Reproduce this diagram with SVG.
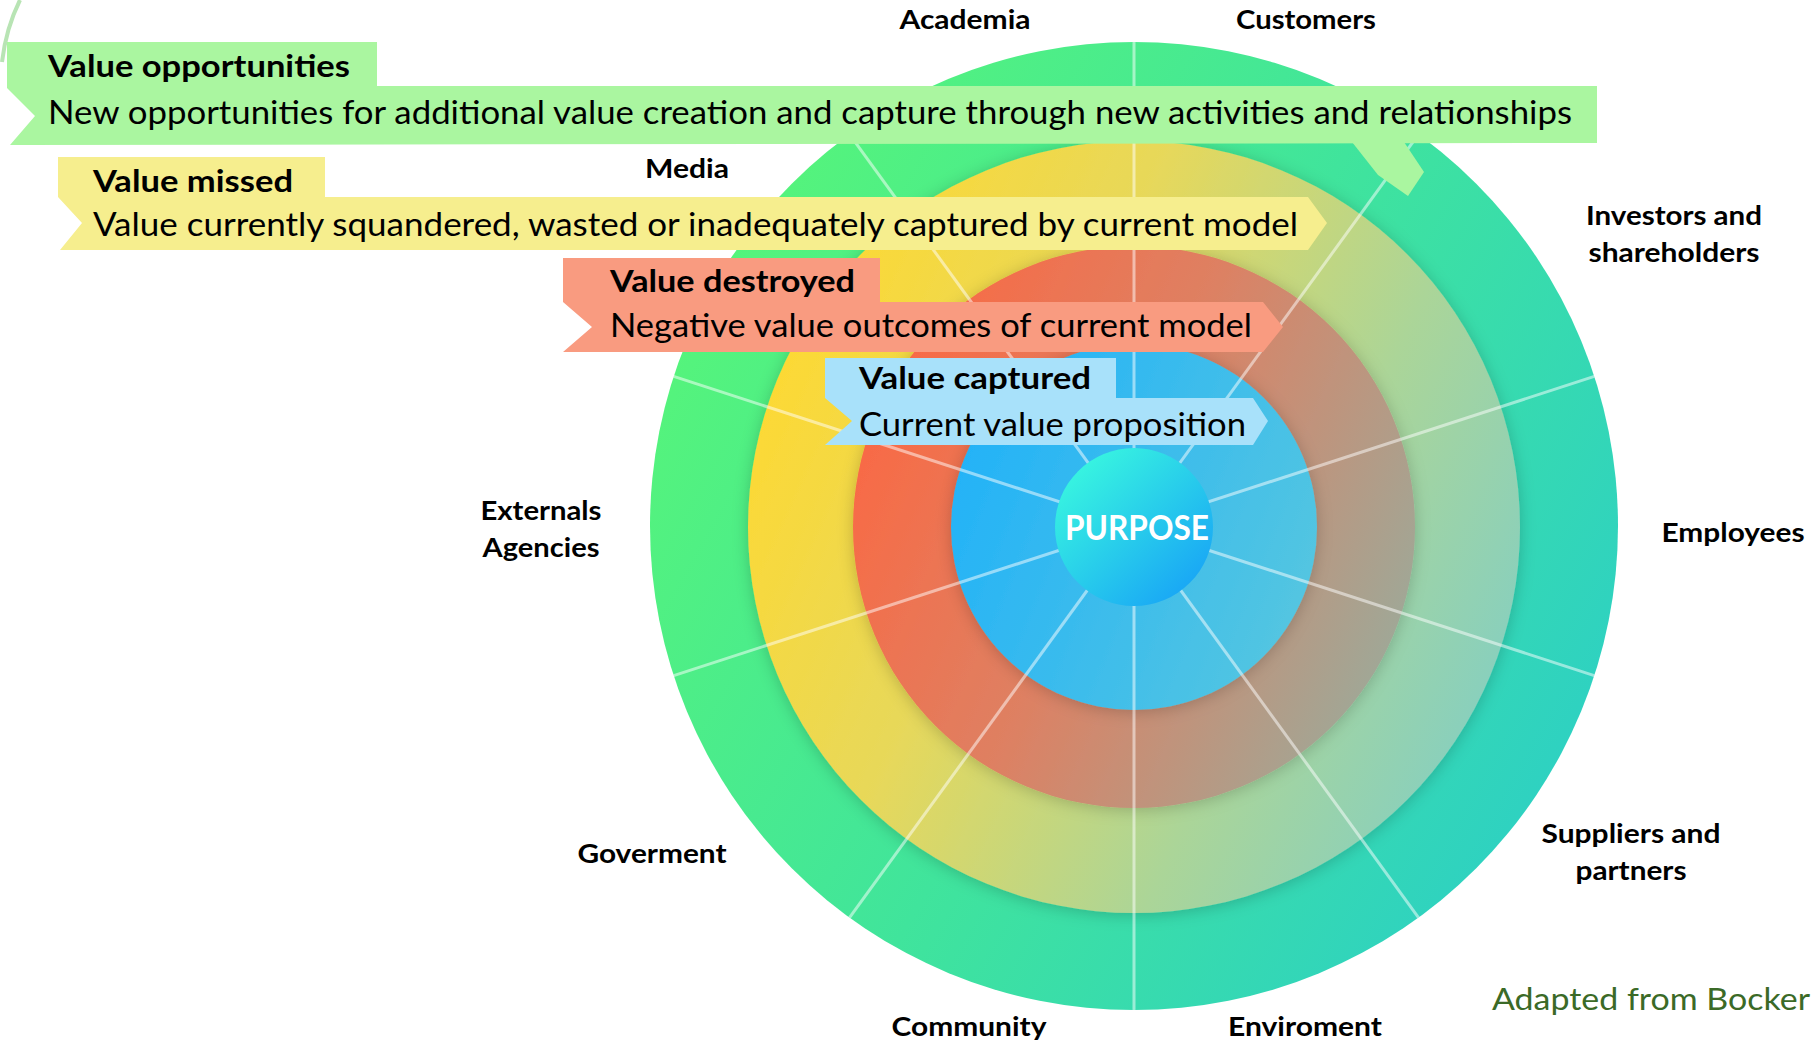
<svg xmlns="http://www.w3.org/2000/svg" width="1812" height="1042" viewBox="0 0 1812 1042">
<defs>
  <linearGradient id="gOuter" gradientUnits="userSpaceOnUse" x1="650" y1="250" x2="1618" y2="800">
    <stop offset="0" stop-color="#58f677"/>
    <stop offset="0.5" stop-color="#40e49c"/>
    <stop offset="1" stop-color="#2ccfc6"/>
  </linearGradient>
  <linearGradient id="gYellow" gradientUnits="userSpaceOnUse" x1="749" y1="350" x2="1520" y2="700">
    <stop offset="0" stop-color="#ffd930"/>
    <stop offset="0.35" stop-color="#e7d85a"/>
    <stop offset="0.7" stop-color="#abd598"/>
    <stop offset="1" stop-color="#84cfc2"/>
  </linearGradient>
  <linearGradient id="gRed" gradientUnits="userSpaceOnUse" x1="855" y1="400" x2="1414" y2="650">
    <stop offset="0" stop-color="#fb6843"/>
    <stop offset="0.45" stop-color="#de8062"/>
    <stop offset="1" stop-color="#9caa9a"/>
  </linearGradient>
  <linearGradient id="gBlue" gradientUnits="userSpaceOnUse" x1="950" y1="450" x2="1318" y2="600">
    <stop offset="0" stop-color="#22b2f8"/>
    <stop offset="1" stop-color="#55c6e0"/>
  </linearGradient>
  <linearGradient id="gPurpose" x1="0.15" y1="0.1" x2="0.9" y2="0.9">
    <stop offset="0" stop-color="#38f5e0"/>
    <stop offset="1" stop-color="#18a4f6"/>
  </linearGradient>
  <filter id="sh" x="-15%" y="-15%" width="130%" height="130%">
    <feDropShadow dx="0" dy="2" stdDeviation="8" flood-color="#000" flood-opacity="0.2"/>
  </filter>
  <style>
    .lbl { font-family: Lato, "Open Sans", "Liberation Sans", sans-serif; font-weight: 700; font-size: 27px; fill: #000; text-anchor: middle; }
    .ttl { font-family: Lato, "Open Sans", "Liberation Sans", sans-serif; font-weight: 700; font-size: 31px; fill: #000; }
    .body { font-family: Lato, "Open Sans", "Liberation Sans", sans-serif; font-weight: 400; font-size: 32px; fill: #000; }
    .spoke { stroke: #ffffff; stroke-opacity: 0.5; stroke-width: 3; }
  </style>
</defs>
<rect width="1812" height="1042" fill="#ffffff"/>
<path d="M 20 0 Q 6 28 2 62" fill="none" stroke="#b8e4b4" stroke-width="4"/>

<g id="ring-outer"><circle cx="1134" cy="526" r="484" fill="url(#gOuter)"/></g>
<g id="ring-missed"><circle cx="1134" cy="527" r="386" fill="url(#gYellow)" filter="url(#sh)"/></g>
<g id="ring-destroyed"><circle cx="1134" cy="527" r="281" fill="url(#gRed)" filter="url(#sh)"/></g>
<g id="ring-captured"><circle cx="1134" cy="527" r="183" fill="url(#gBlue)" filter="url(#sh)"/></g>

<g id="connectors">
  <line class="spoke" x1="1134" y1="526" x2="1134" y2="42"/>
  <line class="spoke" x1="1134" y1="526" x2="1134" y2="42" transform="rotate(36 1134 526)"/>
  <line class="spoke" x1="1134" y1="526" x2="1134" y2="42" transform="rotate(72 1134 526)"/>
  <line class="spoke" x1="1134" y1="526" x2="1134" y2="42" transform="rotate(108 1134 526)"/>
  <line class="spoke" x1="1134" y1="526" x2="1134" y2="42" transform="rotate(144 1134 526)"/>
  <line class="spoke" x1="1134" y1="526" x2="1134" y2="42" transform="rotate(180 1134 526)"/>
  <line class="spoke" x1="1134" y1="526" x2="1134" y2="42" transform="rotate(216 1134 526)"/>
  <line class="spoke" x1="1134" y1="526" x2="1134" y2="42" transform="rotate(252 1134 526)"/>
  <line class="spoke" x1="1134" y1="526" x2="1134" y2="42" transform="rotate(288 1134 526)"/>
  <line class="spoke" x1="1134" y1="526" x2="1134" y2="42" transform="rotate(324 1134 526)"/>
</g>

<g id="purpose">
  <circle cx="1134" cy="527" r="79" fill="url(#gPurpose)"/>
  <text x="1137" y="540" font-family="Lato, 'Open Sans', 'Liberation Sans', sans-serif" font-weight="700" font-size="34" fill="#ffffff" text-anchor="middle" textLength="144" lengthAdjust="spacingAndGlyphs">PURPOSE</text>
</g>

<g id="banner-opportunities">
  <polygon points="7,42 377,42 377,86 1597,86 1597,143 10,145 35,116 7,88" fill="#aaf6a0"/>
  <polygon points="1352,142 1404,142 1424,172 1408,196 1378,175" fill="#aaf6a0"/>
  <text class="ttl" x="48" y="77" textLength="302" lengthAdjust="spacingAndGlyphs">Value opportunities</text>
  <text class="body" x="48" y="124" textLength="1524" lengthAdjust="spacingAndGlyphs">New opportunities for additional value creation and capture through new activities and relationships</text>
</g>

<g id="banner-missed">
  <polygon points="58,157 325,157 325,197 1308,197 1327,223 1308,250 60,250 82,223 58,197" fill="#f6ee8e"/>
  <text class="ttl" x="93" y="192" textLength="200" lengthAdjust="spacingAndGlyphs">Value missed</text>
  <text class="body" x="93" y="236" textLength="1205" lengthAdjust="spacingAndGlyphs">Value currently squandered, wasted or inadequately captured by current model</text>
</g>

<g id="banner-destroyed">
  <polygon points="563,258 880,258 880,302 1263,302 1283,327 1263,352 563,352 592,327 563,302" fill="#f99b80"/>
  <text class="ttl" x="610" y="292" textLength="245" lengthAdjust="spacingAndGlyphs">Value destroyed</text>
  <text class="body" x="610" y="337" textLength="642" lengthAdjust="spacingAndGlyphs">Negative value outcomes of current model</text>
</g>

<g id="banner-captured">
  <polygon points="825,358 1116,358 1116,398 1253,398 1268,421 1253,445 825,445 852,421 825,398" fill="#a8e1fa"/>
  <text class="ttl" x="859" y="389" textLength="232" lengthAdjust="spacingAndGlyphs">Value captured</text>
  <text class="body" x="859" y="436" textLength="387" lengthAdjust="spacingAndGlyphs">Current value proposition</text>
</g>

<g id="label-academia"><text class="lbl" x="965" y="29" textLength="131" lengthAdjust="spacingAndGlyphs">Academia</text></g>
<g id="label-customers"><text class="lbl" x="1306" y="29" textLength="140" lengthAdjust="spacingAndGlyphs">Customers</text></g>
<g id="label-media"><text class="lbl" x="687" y="178" textLength="84" lengthAdjust="spacingAndGlyphs">Media</text></g>
<g id="label-investors"><text class="lbl" x="1674" y="225" textLength="176" lengthAdjust="spacingAndGlyphs">Investors and</text><text class="lbl" x="1674" y="262" textLength="171" lengthAdjust="spacingAndGlyphs">shareholders</text></g>
<g id="label-employees"><text class="lbl" x="1733" y="542" textLength="143" lengthAdjust="spacingAndGlyphs">Employees</text></g>
<g id="label-externals"><text class="lbl" x="541" y="520" textLength="121" lengthAdjust="spacingAndGlyphs">Externals</text><text class="lbl" x="541" y="557" textLength="117" lengthAdjust="spacingAndGlyphs">Agencies</text></g>
<g id="label-suppliers"><text class="lbl" x="1631" y="843" textLength="179" lengthAdjust="spacingAndGlyphs">Suppliers and</text><text class="lbl" x="1631" y="880" textLength="111" lengthAdjust="spacingAndGlyphs">partners</text></g>
<g id="label-goverment"><text class="lbl" x="652" y="863" textLength="149" lengthAdjust="spacingAndGlyphs">Goverment</text></g>
<g id="label-community"><text class="lbl" x="969" y="1036" textLength="155" lengthAdjust="spacingAndGlyphs">Community</text></g>
<g id="label-enviroment"><text class="lbl" x="1305" y="1036" textLength="154" lengthAdjust="spacingAndGlyphs">Enviroment</text></g>

<g id="credit"><text x="1492" y="1010" font-family="Lato, 'Open Sans', 'Liberation Sans', sans-serif" font-size="31" fill="#3b6a27" textLength="318" lengthAdjust="spacingAndGlyphs">Adapted from Bocker</text></g>
</svg>
